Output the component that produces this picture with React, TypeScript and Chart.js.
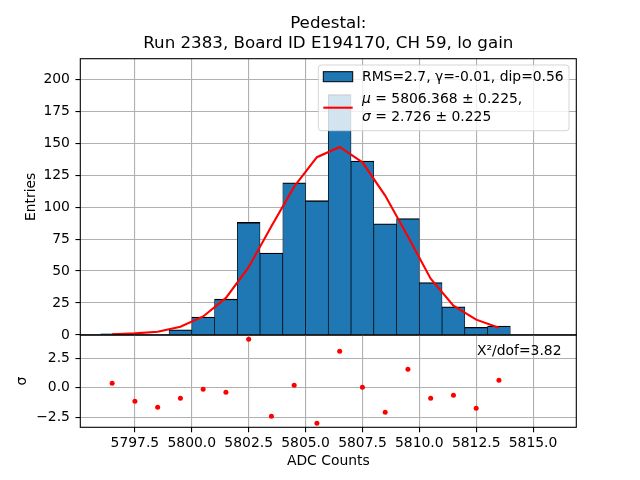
import { useEffect, useRef } from "react"
import { Chart, registerables } from "chart.js"

Chart.register(...registerables)
Chart.defaults.font.family = '"DejaVu Sans", sans-serif'

// bin centres of the histogram (1 ADC wide bins)
const binCenters = [
  5796.5, 5797.5, 5798.5, 5799.5, 5800.5, 5801.5, 5802.5, 5803.5, 5804.5,
  5805.5, 5806.5, 5807.5, 5808.5, 5809.5, 5810.5, 5811.5, 5812.5, 5813.5,
]
const entries = [1, 0, 0, 4, 14, 28, 88, 64, 119, 105, 188, 136, 87, 91, 41, 22, 6, 7]
const fitValues = [0.5, 1.3, 2.6, 6.5, 14.5, 29, 53, 85, 116, 139, 147, 135, 109, 77, 44, 23, 12, 5.7]
const residuals = [
  0.4, -1.13, -1.64, -0.88, -0.11, -0.37, 4.12, -2.4, 0.23,
  -2.99, 3.11, 0.06, -2.06, 1.58, -0.88, -0.62, -1.72, 0.65,
]

const titleLines = ["Pedestal:", "Run 2383, Board ID E194170, CH 59, lo gain"]
const histLabel = "RMS=2.7, γ=-0.01, dip=0.56"
const fitLabelMu = " = 5806.368 ± 0.225,"
const fitLabelSigma = " = 2.726 ± 0.225"
const chiLabel = "X²/dof=3.82"

const W = 640
const H = 480
const AX_LEFT = 80.3
const AX_RIGHT = 576.3
const TOP_TOP = 58.7
const SPLIT = 335
const BOT_BOTTOM = 427.3
const X_MIN = 5795.1
const X_MAX = 5816.9

const GRID = "#b0b0b0"
const FS = 13.9
const FONT = '"DejaVu Sans", sans-serif'

const framePlugin = {
  id: "frame",
  afterDraw(chart: Chart) {
    const { ctx, chartArea: a } = chart
    ctx.save()
    ctx.strokeStyle = "#000"
    ctx.lineWidth = 1.1
    ctx.strokeRect(a.left, a.top, a.right - a.left, a.bottom - a.top)
    ctx.restore()
  },
}

const topTextPlugin = {
  id: "topText",
  afterDraw(chart: Chart) {
    const ctx = chart.ctx
    ctx.save()
    ctx.fillStyle = "#000"
    ctx.textBaseline = "alphabetic"
    ctx.textAlign = "center"
    ctx.font = `16.7px ${FONT}`
    ctx.fillText(titleLines[0], (AX_LEFT + AX_RIGHT) / 2, 28.3)
    ctx.fillText(titleLines[1], (AX_LEFT + AX_RIGHT) / 2, 48.3)

    // legend box
    ctx.beginPath()
    ctx.roundRect(318.3, 65, 250.7, 65.7, 3)
    ctx.fillStyle = "rgba(255,255,255,0.8)"
    ctx.fill()
    ctx.strokeStyle = "rgba(204,204,204,0.8)"
    ctx.lineWidth = 1
    ctx.stroke()

    ctx.fillStyle = "#1f77b4"
    ctx.fillRect(323.3, 71.7, 29.4, 10)
    ctx.strokeStyle = "#000"
    ctx.strokeRect(323.3, 71.7, 29.4, 10)

    ctx.beginPath()
    ctx.moveTo(323.3, 107.7)
    ctx.lineTo(352.7, 107.7)
    ctx.strokeStyle = "#ff0000"
    ctx.lineWidth = 2.1
    ctx.stroke()

    ctx.fillStyle = "#000"
    ctx.textAlign = "left"
    ctx.font = `${FS}px ${FONT}`
    ctx.fillText(histLabel, 362, 80.7)

    ctx.font = `italic ${FS}px ${FONT}`
    const wMu = ctx.measureText("μ").width
    ctx.fillText("μ", 362, 102.7)
    const wSig = ctx.measureText("σ").width
    ctx.fillText("σ", 362, 120.7)
    ctx.font = `${FS}px ${FONT}`
    ctx.fillText(fitLabelMu, 362 + wMu, 102.7)
    ctx.fillText(fitLabelSigma, 362 + wSig, 120.7)
    ctx.restore()
  },
}

const chiPlugin = {
  id: "chi",
  afterDraw(chart: Chart) {
    const ctx = chart.ctx
    ctx.save()
    ctx.fillStyle = "#000"
    ctx.font = `${FS}px ${FONT}`
    ctx.textAlign = "left"
    ctx.textBaseline = "alphabetic"
    ctx.fillText(chiLabel, 477, 354.5)
    ctx.restore()
  },
}

export default function App() {
  const topRef = useRef<HTMLCanvasElement>(null)
  const botRef = useRef<HTMLCanvasElement>(null)

  useEffect(() => {
    if (!topRef.current || !botRef.current) return

    const tickFont = { size: FS, family: FONT }

    const top = new Chart(topRef.current, {
      type: "bar",
      data: {
        datasets: [
          {
            type: "line",
            label: "fit",
            data: binCenters.map((x, i) => ({ x, y: fitValues[i] })),
            borderColor: "#ff0000",
            borderWidth: 2.1,
            pointRadius: 0,
            tension: 0,
            order: 0,
          },
          {
            type: "bar",
            label: "hist",
            data: binCenters.map((x, i) => ({ x, y: entries[i] })),
            backgroundColor: "#1f77b4",
            borderColor: "#000",
            borderWidth: { top: 1.3, bottom: 0, left: 0.7, right: 0.7 },
            borderSkipped: false,
            barPercentage: 1,
            categoryPercentage: 1,
            order: 1,
          },
        ],
      } as any,
      options: {
        responsive: false,
        animation: false,
        events: [],
        layout: { padding: { left: 0, top: TOP_TOP, right: W - AX_RIGHT, bottom: H - SPLIT } },
        plugins: { legend: { display: false }, tooltip: { enabled: false } },
        scales: {
          x: {
            type: "linear",
            min: X_MIN,
            max: X_MAX,
            offset: false,
            z: 1,
            grid: { color: GRID, lineWidth: 1.1, drawTicks: false, offset: false },
            border: { display: false },
            ticks: { display: false, stepSize: 2.5, includeBounds: false },
            afterFit: (s: any) => {
              s.height = 0
            },
          },
          y: {
            type: "linear",
            min: 0,
            max: 216,
            z: 1,
            grid: { color: GRID, lineWidth: 1.1, tickColor: "#000", tickLength: 4.86, tickWidth: 1.1 },
            border: { display: false },
            ticks: { stepSize: 25, includeBounds: false, color: "#000", font: tickFont, padding: 5.5 },
            title: {
              display: true,
              text: "Entries",
              color: "#000",
              font: tickFont,
              padding: { top: 23.5, bottom: 0 },
            },
            afterFit: (s: any) => {
              s.width = AX_LEFT
            },
          },
        },
      } as any,
      plugins: [framePlugin, topTextPlugin],
    })

    const bottom = new Chart(botRef.current, {
      type: "scatter",
      data: {
        datasets: [
          {
            label: "residuals",
            data: binCenters.map((x, i) => ({ x, y: residuals[i] })),
            backgroundColor: "#ff0000",
            borderWidth: 0,
            pointRadius: 2.5,
          },
        ],
      },
      options: {
        responsive: false,
        animation: false,
        events: [],
        layout: { padding: { left: 0, top: SPLIT, right: W - AX_RIGHT, bottom: 0 } },
        plugins: { legend: { display: false }, tooltip: { enabled: false } },
        scales: {
          x: {
            type: "linear",
            min: X_MIN,
            max: X_MAX,
            grid: { color: GRID, lineWidth: 1.1, tickColor: "#000", tickLength: 4.86, tickWidth: 1.1 },
            border: { display: false },
            ticks: {
              stepSize: 2.5,
              includeBounds: false,
              color: "#000",
              font: tickFont,
              padding: 3,
              maxRotation: 0,
              autoSkip: false,
              callback: (v: any) => Number(v).toFixed(1),
            },
            title: {
              display: true,
              text: "ADC Counts",
              color: "#000",
              font: tickFont,
              padding: { top: 0, bottom: 9.8 },
            },
            afterFit: (s: any) => {
              s.height = H - BOT_BOTTOM
            },
          },
          y: {
            type: "linear",
            min: -3.34,
            max: 4.48,
            grid: { color: GRID, lineWidth: 1.1, tickColor: "#000", tickLength: 4.86, tickWidth: 1.1 },
            border: { display: false },
            ticks: {
              stepSize: 2.5,
              includeBounds: false,
              color: "#000",
              font: tickFont,
              padding: 5.5,
              callback: (v: any) => Number(v).toFixed(1).replace("-", "\u2212"),
            },
            title: {
              display: true,
              text: "σ",
              color: "#000",
              font: tickFont,
              padding: { top: 13.6, bottom: 0 },
            },
            afterFit: (s: any) => {
              s.width = AX_LEFT
            },
          },
        },
      } as any,
      plugins: [framePlugin, chiPlugin],
    })

    return () => {
      top.destroy()
      bottom.destroy()
    }
  }, [])

  return (
    <div style={{ position: "absolute", left: 0, top: 0, width: W, height: H, background: "#fff" }}>
      <canvas ref={topRef} width={W} height={H} style={{ position: "absolute", left: 0, top: 0 }} />
      <canvas ref={botRef} width={W} height={H} style={{ position: "absolute", left: 0, top: 0 }} />
    </div>
  )
}
